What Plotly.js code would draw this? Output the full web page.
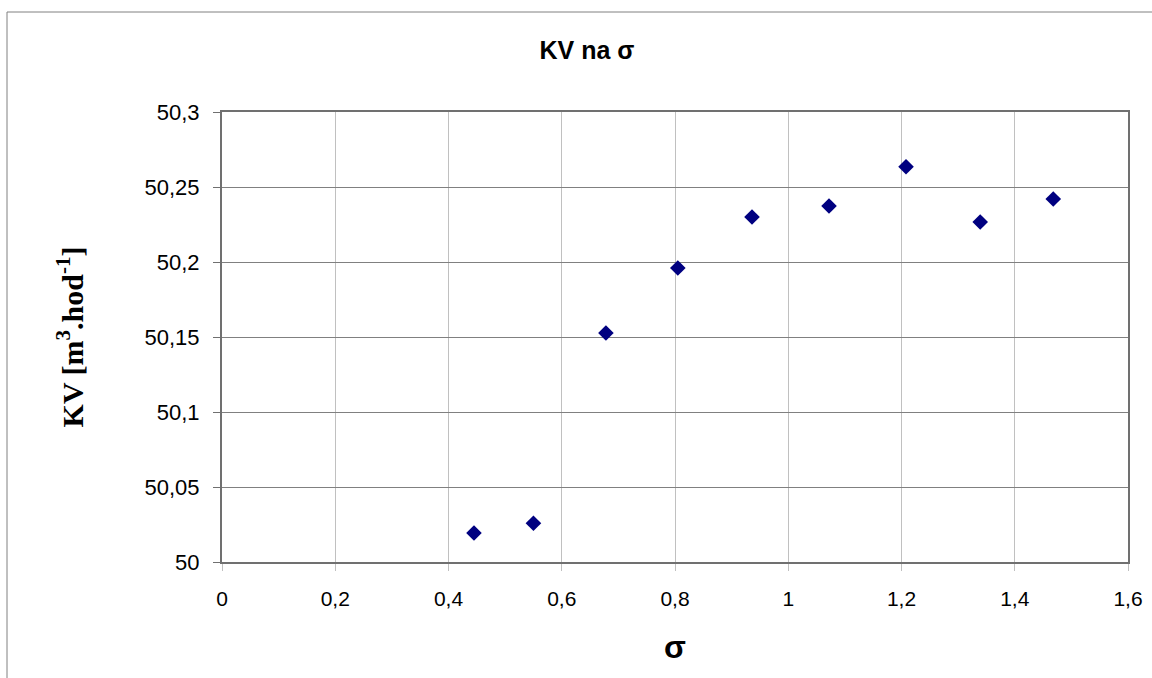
<!DOCTYPE html>
<html>
<head>
<meta charset="utf-8">
<script src="https://cdn.plot.ly/plotly-3.0.1.min.js"></script>
<style>html,body{margin:0;padding:0;background:#fff;}#chart{width:1152px;height:678px;}</style>
</head>
<body>
<div id="chart"></div>
<script>
const sigma = [0.445, 0.550, 0.678, 0.805, 0.936, 1.072, 1.208, 1.339, 1.468];
const kv = [50.0193, 50.0258, 50.1527, 50.196, 50.230, 50.2373, 50.2635, 50.2267, 50.242];
const xTicks = [0, 0.2, 0.4, 0.6, 0.8, 1, 1.2, 1.4, 1.6];
const xTickLabels = ["0", "0,2", "0,4", "0,6", "0,8", "1", "1,2", "1,4", "1,6"];
const yTicks = [50, 50.05, 50.1, 50.15, 50.2, 50.25, 50.3];
const yTickLabels = ["50", "50,05", "50,1", "50,15", "50,2", "50,25", "50,3"];

const trace = {
  x: sigma, y: kv, type: 'scatter', mode: 'markers',
  marker: {symbol: 'diamond', size: 12, color: '#000080', line: {width: 0}},
  hoverinfo: 'x+y'
};

const layout = {
  width: 1152, height: 678,
  margin: {l: 222, r: 24, t: 112, b: 116},
  paper_bgcolor: '#ffffff', plot_bgcolor: '#ffffff',
  showlegend: false,
  font: {family: 'Liberation Sans, Arial, sans-serif', color: '#000', size: 20},
  title: {text: '<b>KV na σ</b>', font: {family: 'Liberation Sans, Arial, sans-serif', size: 25, color: '#000'},
          x: 587/1152, xanchor: 'center', y: 1 - 50/678, yanchor: 'middle', xref: 'container', yref: 'container'},
  xaxis: {
    range: [0, 1.6], tickvals: xTicks, ticktext: xTickLabels,
    showgrid: true, gridcolor: '#c0c0c0', gridwidth: 1,
    zeroline: false, showline: true, linecolor: '#707070', linewidth: 2, mirror: true,
    ticks: 'outside', ticklen: 7, tickcolor: '#c0c0c0', tickwidth: 1,
    tickfont: {size: 21, color: '#000'}, ticklabelstandoff: 10,
    title: {text: '<b>σ</b>', font: {family: 'Liberation Sans, Arial, sans-serif', size: 32, color: '#000'}, standoff: 26},
    automargin: false, fixedrange: true
  },
  yaxis: {
    range: [50, 50.3], tickvals: yTicks, ticktext: yTickLabels,
    showgrid: true, gridcolor: '#808080', gridwidth: 1,
    zeroline: false, showline: true, linecolor: '#707070', linewidth: 2, mirror: true,
    ticks: 'outside', ticklen: 7, tickcolor: '#707070', tickwidth: 1,
    tickfont: {size: 22, color: '#000'}, ticklabelstandoff: 9,
    title: {text: '<b>KV [m<sup>3</sup>.hod<sup>-1</sup>]</b>', font: {family: 'Liberation Serif, Times New Roman, serif', size: 30, color: '#000'}, standoff: 52},
    automargin: false, fixedrange: true
  },
  shapes: [{
    type: 'rect', xref: 'paper', yref: 'paper',
    x0: (7 - 222) / 906, x1: (1160 - 222) / 906,
    y0: (562 - 690) / 450, y1: (562 - 12) / 450,
    line: {color: '#808080', width: 1}, fillcolor: 'rgba(0,0,0,0)', layer: 'below'
  }]
};

Plotly.newPlot('chart', [trace], layout, {displayModeBar: false, staticPlot: true});
</script>
</body>
</html>
